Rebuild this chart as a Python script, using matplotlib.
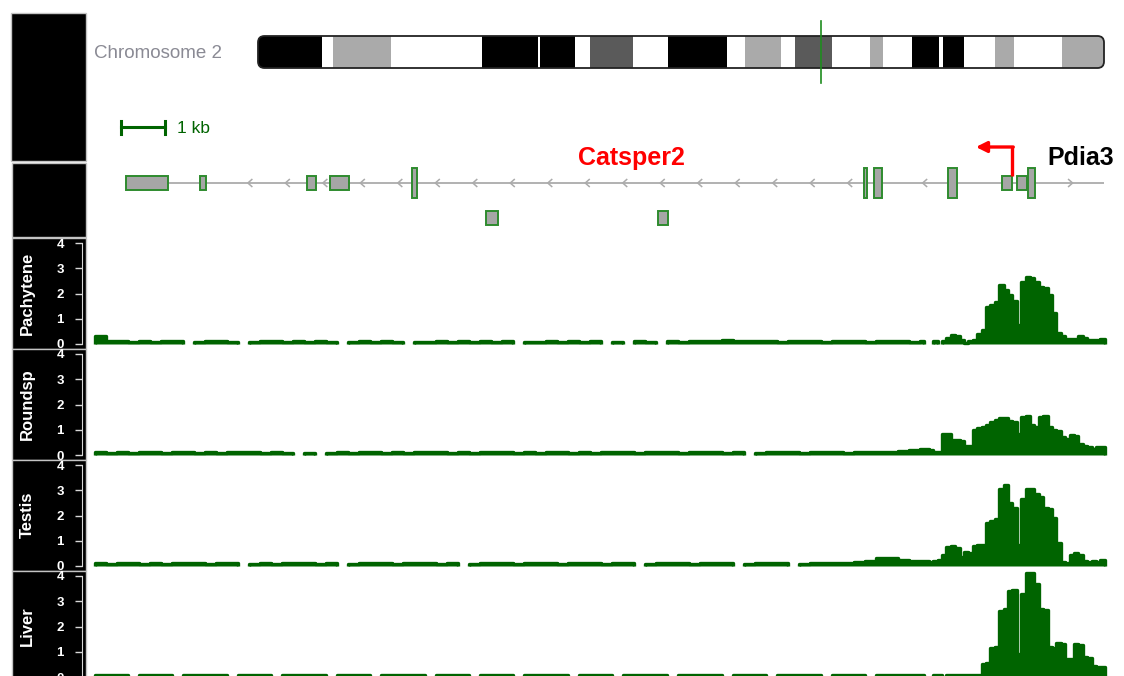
import numpy as np
import matplotlib
matplotlib.use("Agg")
import matplotlib.pyplot as plt
from matplotlib.patches import Rectangle, FancyBboxPatch

plt.rcParams['font.family'] = ['Liberation Sans', 'DejaVu Sans']

# ------------------------------------------------------------------ data
chrom_label = "Chromosome 2"
chrom_len_mb = 182.0
band_start_mb = [0.0, 13.8, 16.1, 28.6, 48.2, 60.3, 60.7, 68.1, 71.4, 80.7, 88.2,
                 100.9, 104.8, 112.5, 115.5, 123.5, 131.6, 134.4, 140.7, 146.5,
                 147.4, 151.9, 158.5, 162.6, 173.0]
band_end_mb = band_start_mb[1:] + [chrom_len_mb]
band_stain = ["gpos100", "gneg", "gpos50", "gneg", "gpos100", "gneg", "gpos100",
              "gneg", "gpos75", "gneg", "gpos100", "gneg", "gpos50", "gneg",
              "gpos75", "gneg", "gpos50", "gneg", "gpos100", "gneg", "gpos100",
              "gneg", "gpos50", "gneg", "gpos50"]
locus_mb = 121.1

# gene model (kb from left edge of view)
exon_start_kb = [0.705, 2.386, 4.818, 5.341, 7.205, 17.477, 17.705, 19.386,
                 20.614, 20.955, 21.205, 8.886, 12.795]
exon_end_kb = [1.659, 2.523, 5.023, 5.773, 7.318, 17.545, 17.886, 19.591,
               20.841, 21.182, 21.364, 9.159, 13.023]
exon_row = [0, 0, 0, 0, 0, 0, 0, 0, 0, 0, 0, 1, 1]
exon_tall = [0, 0, 0, 0, 1, 1, 1, 1, 0, 0, 1, 0, 0]
gene_line_start_kb = 0.705
strand_switch_kb = 21.4
tss_kb = 20.84
tss_arrow_tip_kb = 20.02
gene_labels = ["Catsper2", "Pdia3"]

# coverage tracks
track_names = ["Pachytene", "Roundsp", "Testis", "Liver"]
y_ticks = [0, 1, 2, 3, 4]
COARSE_BIN_KB = 0.25
FINE_START_KB = 18.75
FINE_BIN_KB = 0.1

pachytene_coarse = [0.30, 0.12, 0.10, 0.08, 0.10, 0.08, 0.10, 0.10, None, 0.06,
                    0.10, 0.12, 0.08, None, 0.06, 0.10, 0.12, 0.08, 0.10, 0.08,
                    0.10, 0.08, None, 0.06, 0.10, 0.08, 0.12, 0.08, None, 0.06,
                    0.08, 0.10, 0.08, 0.10, 0.08, 0.10, 0.08, 0.10, None, 0.06,
                    0.08, 0.10, 0.08, 0.10, 0.08, 0.10, None, 0.06, None, 0.10,
                    0.08, None, 0.10, 0.08, 0.10, 0.12, 0.10, 0.15, 0.12, 0.10,
                    0.12, 0.10, 0.08, 0.10, 0.12, 0.10, 0.08, 0.10, 0.12, 0.10,
                    0.08, 0.10, 0.12, 0.10, 0.08]
pachytene_fine = [0.12, None, None, 0.12, None, 0.12, 0.25, 0.35, 0.30, 0.15,
                  0.05, 0.10, 0.15, 0.40, 0.55, 1.45, 1.55, 1.65, 2.35, 2.15,
                  1.95, 1.70, 0.75, 2.45, 2.65, 2.62, 2.47, 2.25, 2.20, 1.94,
                  1.21, 0.45, 0.30, 0.20, 0.20, 0.20, 0.30, 0.25, 0.15, 0.15,
                  0.15, 0.20]

roundsp_coarse = [0.10, 0.08, 0.10, 0.08, 0.10, 0.10, 0.08, 0.10, 0.12, 0.08,
                  0.10, 0.08, 0.10, 0.12, 0.10, 0.08, 0.10, 0.06, None, 0.06,
                  None, 0.08, 0.10, 0.08, 0.10, 0.12, 0.08, 0.10, 0.08, 0.10,
                  0.12, 0.10, 0.08, 0.10, 0.08, 0.10, 0.12, 0.10, 0.08, 0.10,
                  0.08, 0.10, 0.12, 0.08, 0.10, 0.08, 0.10, 0.12, 0.10, 0.08,
                  0.10, 0.12, 0.10, 0.08, 0.10, 0.12, 0.10, 0.08, 0.10, None,
                  0.08, 0.10, 0.12, 0.10, 0.08, 0.10, 0.12, 0.10, 0.08, 0.10,
                  0.12, 0.10, 0.10, 0.15, 0.20]
roundsp_fine = [0.25, 0.25, 0.20, 0.10, 0.10, 0.85, 0.85, 0.60, 0.60, 0.55,
                0.35, 0.35, 1.00, 1.05, 1.10, 1.20, 1.30, 1.40, 1.45, 1.45,
                1.35, 1.30, 0.85, 1.50, 1.55, 1.20, 1.10, 1.50, 1.55, 1.10,
                1.00, 0.95, 0.70, 0.65, 0.80, 0.75, 0.45, 0.35, 0.30, 0.25,
                0.30, 0.30]

testis_coarse = [0.10, 0.08, 0.10, 0.12, 0.08, 0.10, 0.08, 0.10, 0.12, 0.10,
                 0.08, 0.10, 0.12, None, 0.06, 0.10, 0.08, 0.10, 0.12, 0.10,
                 0.08, 0.10, None, 0.08, 0.10, 0.12, 0.10, 0.08, 0.10, 0.12,
                 0.10, 0.08, 0.10, None, 0.08, 0.10, 0.12, 0.10, 0.08, 0.10,
                 0.12, 0.10, 0.08, 0.10, 0.12, 0.10, 0.08, 0.10, 0.12, None,
                 0.08, 0.10, 0.12, 0.10, 0.08, 0.10, 0.12, 0.10, None, 0.08,
                 0.10, 0.12, 0.10, None, 0.08, 0.10, 0.12, 0.10, 0.12, 0.15,
                 0.20, 0.30, 0.30, 0.25, 0.20]
testis_fine = [0.20, 0.20, 0.15, 0.20, 0.25, 0.45, 0.75, 0.80, 0.70, 0.35,
               0.55, 0.50, 0.80, 0.85, 0.85, 1.70, 1.80, 1.85, 3.05, 3.20,
               2.50, 2.30, 0.85, 2.65, 3.05, 3.05, 2.85, 2.75, 2.30, 2.25,
               1.90, 0.90, 0.15, 0.10, 0.45, 0.50, 0.45, 0.20, 0.15, 0.20,
               0.15, 0.25]

liver_coarse = [0.06, 0.08, 0.06, None, 0.08, 0.06, 0.08, None, 0.06, 0.08,
                0.06, 0.08, None, 0.06, 0.08, 0.06, None, 0.08, 0.06, 0.08,
                0.06, None, 0.08, 0.06, 0.08, None, 0.06, 0.08, 0.06, 0.08,
                None, 0.06, 0.08, 0.06, None, 0.08, 0.06, 0.08, None, 0.06,
                0.08, 0.06, 0.08, None, 0.06, 0.08, 0.06, None, 0.08, 0.06,
                0.08, 0.06, None, 0.08, 0.06, 0.08, 0.06, None, 0.08, 0.06,
                0.08, None, 0.06, 0.08, 0.06, 0.08, None, 0.06, 0.08, 0.06,
                None, 0.08, 0.06, 0.08, 0.06]
liver_fine = [0.06, None, None, 0.06, 0.08, None, 0.08, 0.06, 0.08, 0.06,
              0.08, 0.06, 0.08, 0.06, 0.50, 0.55, 1.15, 1.20, 2.60, 2.70,
              3.40, 3.45, 0.90, 3.30, 4.10, 4.10, 3.70, 2.70, 2.65, 1.20,
              1.15, 1.35, 1.30, 0.70, 0.70, 1.30, 1.25, 0.80, 0.75, 0.45,
              0.40, 0.40]

track_coarse = [pachytene_coarse, roundsp_coarse, testis_coarse, liver_coarse]
track_fine = [pachytene_fine, roundsp_fine, testis_fine, liver_fine]

# ------------------------------------------------------------------ layout / style
W, H = 1124, 676
DATA_X0, DATA_X1 = 95, 1104
PX_PER_KB = 44.0
XMAX = (DATA_X1 - DATA_X0) / PX_PER_KB
GREEN = '#006400'
stain_colors = {"gneg": "white", "gpos50": "#AAAAAA", "gpos75": "#5A5A5A",
                "gpos100": "black"}
track_tops = [238, 349, 460, 571]
TRACK_H = 111
PAD_PX = 5

fig = plt.figure(figsize=(W / 100, H / 100), dpi=100)
fig.patch.set_facecolor('white')


def px_axes(x0, y0, x1, y1, **kw):
    return fig.add_axes([x0 / W, 1 - y1 / H, (x1 - x0) / W, (y1 - y0) / H], **kw)


# background title panels
bg = fig.add_axes([0, 0, 1, 1], zorder=0)
bg.set_xlim(0, W)
bg.set_ylim(H, 0)
bg.axis('off')
panel_boxes = [(11, 13, 86, 161), (12, 163, 86, 237)] + \
    [(12, t, 86, t + TRACK_H) for t in track_tops]
for (x0, y0, x1, y1) in panel_boxes:
    bg.add_patch(Rectangle((x0, y0), x1 - x0, y1 - y0, facecolor='black',
                           edgecolor='#C4C4C4', lw=1.0))
bg.text(94, 53, chrom_label, color='#8A8A94', fontsize=13.5, ha='left',
        va='center')
for name, t in zip(track_names, track_tops):
    bg.text(27, t + 55, name, color='white', fontsize=12, fontweight='bold',
            rotation=90, ha='center', va='center')

# ideogram
ide = px_axes(258, 36, 1104, 68, zorder=2)
ide.set_xlim(0, chrom_len_mb)
ide.set_ylim(0, 1)
ide.axis('off')
outline = FancyBboxPatch((0, 0), chrom_len_mb, 1,
                         boxstyle='round,pad=0,rounding_size=1.4',
                         mutation_aspect=(1 / 32) / (chrom_len_mb / 846),
                         facecolor='none', edgecolor='#222222', lw=1.3,
                         clip_on=False, zorder=3)
ide.add_patch(outline)
widths = [e - s for s, e in zip(band_start_mb, band_end_mb)]
bars = ide.bar(band_start_mb, 1, width=widths, align='edge',
               color=[stain_colors[s] for s in band_stain], linewidth=0)
for b in bars:
    b.set_clip_path(outline)
ide.plot([locus_mb, locus_mb], [-0.47, 1.47], color='#1E8C1E', lw=1.2,
         clip_on=False, zorder=5)

# gene track
ga = px_axes(DATA_X0, 100, DATA_X1, 240, zorder=2)
ga.set_xlim(0, XMAX)
ga.set_ylim(240, 100)
ga.axis('off')
ROW_Y = [183, 218]
ga.plot([gene_line_start_kb, XMAX], [ROW_Y[0], ROW_Y[0]], color='#ABABAB',
        lw=1.3, zorder=1)
# strand chevrons
chev = np.arange(1.77, XMAX - 0.02, 0.852)
for c in chev:
    if any(s - 0.12 < c < e + 0.12 for s, e, r in
           zip(exon_start_kb, exon_end_kb, exon_row) if r == 0):
        continue
    d = 0.09 if c < strand_switch_kb else -0.09
    ga.plot([c + d, c, c + d], [ROW_Y[0] - 3.5, ROW_Y[0], ROW_Y[0] + 3.5],
            color='#ABABAB', lw=1.1, zorder=1)
for s, e, r, t in zip(exon_start_kb, exon_end_kb, exon_row, exon_tall):
    h = 30 if t else 14
    yc = ROW_Y[r]
    ga.add_patch(Rectangle((s, yc - h / 2), e - s, h, facecolor='#A6A6A6',
                           edgecolor='#2E8B2E', lw=1.4, zorder=3))
# scale bar
sb0 = (121 - DATA_X0) / PX_PER_KB
ga.plot([sb0, sb0 + 1.0], [127, 127], color=GREEN, lw=2.2, clip_on=False)
ga.plot([sb0, sb0], [120.5, 133.5], color=GREEN, lw=2.2, clip_on=False)
ga.plot([sb0 + 1.0, sb0 + 1.0], [120.5, 133.5], color=GREEN, lw=2.2,
        clip_on=False)
ga.text(sb0 + 1.28, 128, "1 kb", color=GREEN, fontsize=12.5, ha='left',
        va='center')
# TSS arrow
ga.plot([tss_kb, tss_kb], [176, 147], color='red', lw=2.4, zorder=4,
        solid_capstyle='butt')
ga.annotate('', xy=(tss_arrow_tip_kb, 147), xytext=(tss_kb + 0.03, 147),
            arrowprops=dict(arrowstyle='-|>', color='red', lw=2.4,
                            mutation_scale=16, shrinkA=0, shrinkB=0),
            zorder=4)
ga.text((631 - DATA_X0) / PX_PER_KB, 158, gene_labels[0], color='red',
        fontsize=18, fontweight='bold', ha='center', va='center')
ga.text((1047 - DATA_X0) / PX_PER_KB, 158, gene_labels[1], color='black',
        fontsize=18, fontweight='bold', ha='left', va='center',
        clip_on=False)

# coverage tracks
unit_px = (TRACK_H - 2 * PAD_PX) / 4.0
ylo = -PAD_PX / unit_px
yhi = 4 + PAD_PX / unit_px
for name, t, coarse, fine in zip(track_names, track_tops, track_coarse,
                                 track_fine):
    ax = px_axes(DATA_X0, t, DATA_X1, t + TRACK_H, zorder=3)
    ax.set_facecolor('none')
    ax.set_xlim(0, XMAX)
    ax.set_ylim(ylo, yhi)
    # bins: (left edge, right edge, value)
    bins = [(i * COARSE_BIN_KB, (i + 1) * COARSE_BIN_KB, v)
            for i, v in enumerate(coarse)]
    bins += [(FINE_START_KB + j * FINE_BIN_KB,
              FINE_START_KB + (j + 1) * FINE_BIN_KB, v)
             for j, v in enumerate(fine)]
    # split into contiguous runs (None = no coverage) and draw as steps
    runs, cur = [], []
    for b in bins:
        if b[2] is None:
            if cur:
                runs.append(cur)
            cur = []
        else:
            cur.append(b)
    if cur:
        runs.append(cur)
    for run in runs:
        edges = [run[0][0]] + [b[1] for b in run]
        vals = [b[2] for b in run]
        sp = ax.stairs(vals, edges, baseline=0, fill=True, facecolor=GREEN,
                       edgecolor=GREEN, linewidth=2.4, clip_on=False)
        sp.set_joinstyle('round')
    for s in ['top', 'right', 'bottom']:
        ax.spines[s].set_visible(False)
    ax.spines['left'].set_position(('outward', 9.4))
    ax.spines['left'].set_bounds(0, 4)
    ax.spines['left'].set_color('#D8D8D8')
    ax.set_xticks([])
    ax.set_yticks(y_ticks)
    ax.tick_params(axis='y', colors='#D8D8D8', labelcolor='white', length=5,
                   width=1, labelsize=9.5, pad=8)
    for lbl in ax.get_yticklabels():
        lbl.set_fontweight('bold')

fig.savefig('out.png', dpi=100, facecolor='white')
